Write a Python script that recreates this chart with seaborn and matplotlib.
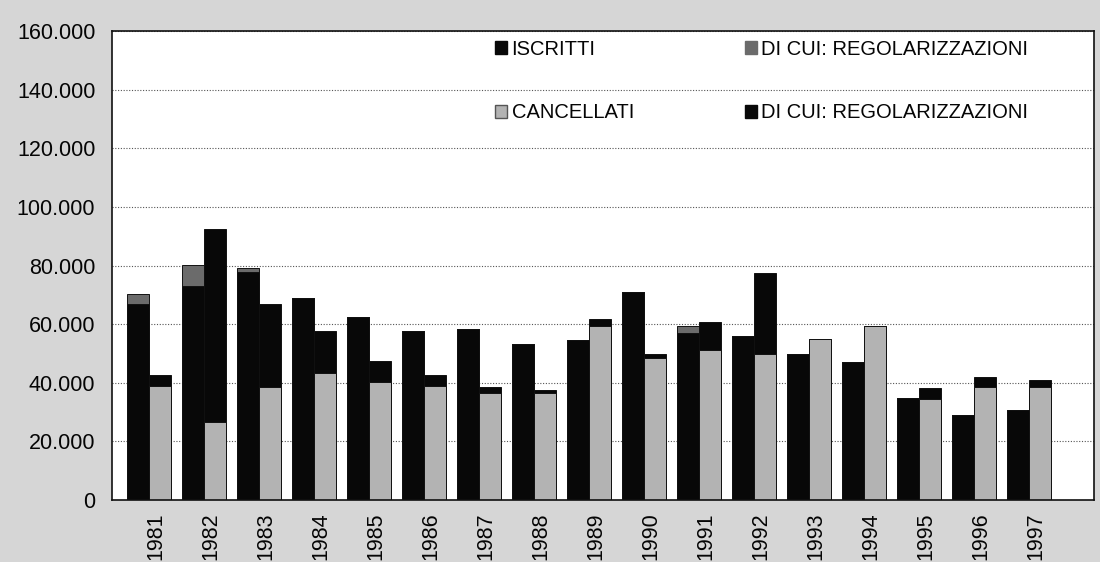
import matplotlib
matplotlib.use("Agg")
import matplotlib.pyplot as plt
import matplotlib.transforms as mtransforms
from matplotlib.patches import Patch
from matplotlib.ticker import FuncFormatter, MultipleLocator
import seaborn as sns
import pandas as pd

# ---- data ----
years = [1981, 1982, 1983, 1984, 1985, 1986, 1987, 1988, 1989,
         1990, 1991, 1992, 1993, 1994, 1995, 1996, 1997]
iscritti = [70300, 80100, 79300, 68900, 62300, 57500, 58300, 53200, 54600,
            70900, 59200, 56100, 49700, 47200, 34800, 29000, 30600]
iscritti_regol = [3300, 7000, 1400, 0, 0, 0, 0, 0, 0,
                  0, 2300, 0, 0, 0, 0, 0, 0]
cancellati = [42600, 92400, 66800, 57600, 47300, 42800, 38400, 37400, 61600,
              49800, 60700, 77400, 54900, 59200, 38200, 41900, 40900]
cancellati_regol = [3800, 65700, 28100, 14400, 6900, 3900, 1800, 800, 2100,
                    1200, 9500, 27600, 0, 0, 3800, 3300, 2300]

labels_legend = ["ISCRITTI", "DI CUI: REGOLARIZZAZIONI",
                 "CANCELLATI", "DI CUI: REGOLARIZZAZIONI"]

BLACK = "#080808"
DARKGRAY = "#6b6b6b"
LIGHTGRAY = "#b3b3b3"
BG = "#d6d6d6"
TXT = "#050505"

sns.set_theme(style="white")
plt.rcParams["font.family"] = ["Liberation Sans", "DejaVu Sans"]

kinds = ["ISCRITTI", "CANCELLATI"]
tot = pd.DataFrame({
    "year": [str(y) for y in years] * 2,
    "kind": ["ISCRITTI"] * len(years) + ["CANCELLATI"] * len(years),
    "value": iscritti + cancellati,
})
base = pd.DataFrame({
    "year": [str(y) for y in years] * 2,
    "kind": ["ISCRITTI"] * len(years) + ["CANCELLATI"] * len(years),
    "value": [a - b for a, b in zip(iscritti, iscritti_regol)]
             + [a - b for a, b in zip(cancellati, cancellati_regol)],
})

fig = plt.figure(figsize=(11, 5.62), dpi=100)
fig.patch.set_facecolor(BG)
ax = fig.add_axes([112 / 1100, 1 - 500 / 562, 982 / 1100, 469 / 562])
ax.set_facecolor("white")

# totals (top segment colour)
sns.barplot(data=tot, x="year", y="value", hue="kind", hue_order=kinds,
            palette={"ISCRITTI": DARKGRAY, "CANCELLATI": BLACK},
            errorbar=None, width=0.8, edgecolor="#111111", linewidth=0.7,
            legend=False, ax=ax)
# lower segment
sns.barplot(data=base, x="year", y="value", hue="kind", hue_order=kinds,
            palette={"ISCRITTI": BLACK, "CANCELLATI": LIGHTGRAY},
            errorbar=None, width=0.8, edgecolor="#111111", linewidth=0.7,
            legend=False, ax=ax)

ax.set_xlim(-0.68, 17.19)
ax.set_ylim(0, 160000)
ax.yaxis.set_major_locator(MultipleLocator(20000))
ax.yaxis.set_major_formatter(FuncFormatter(
    lambda v, p: "0" if v == 0 else f"{int(v):,}".replace(",", ".")))
ax.yaxis.grid(True, linestyle=(0, (1, 1.5)), color="#555555", linewidth=0.8)
ax.xaxis.grid(False)
ax.set_axisbelow(True)
ax.set_xlabel("")
ax.set_ylabel("")

for s in ax.spines.values():
    s.set_visible(True)
    s.set_color("#111111")
    s.set_linewidth(1.2)

ax.tick_params(axis="y", length=0, pad=12, labelsize=15.5, labelcolor=TXT)
ax.tick_params(axis="x", length=0, pad=9, labelsize=15.5, labelcolor=TXT,
               labelrotation=90)
offset = mtransforms.ScaledTranslation(7 / 100, 0, fig.dpi_scale_trans)
for lab in ax.get_xticklabels():
    lab.set_transform(lab.get_transform() + offset)

handles = [Patch(facecolor=BLACK, edgecolor=BLACK),
           Patch(facecolor=LIGHTGRAY, edgecolor="#555555"),
           Patch(facecolor=DARKGRAY, edgecolor=DARKGRAY),
           Patch(facecolor=BLACK, edgecolor=BLACK)]
leg_labels = [labels_legend[0], labels_legend[2], labels_legend[1], labels_legend[3]]
leg = fig.legend(handles, leg_labels, ncol=2, loc="upper left",
                 bbox_to_anchor=(495 / 1100, 1 - 40 / 562),
                 bbox_transform=fig.transFigure, frameon=False,
                 fontsize=14.5, handlelength=0.62, handleheight=0.62,
                 handletextpad=0.2, labelspacing=2.2, columnspacing=5.5,
                 borderpad=0, borderaxespad=0)
for t in leg.get_texts():
    t.set_color(TXT)

fig.savefig("out.png", dpi=100, facecolor=BG)
